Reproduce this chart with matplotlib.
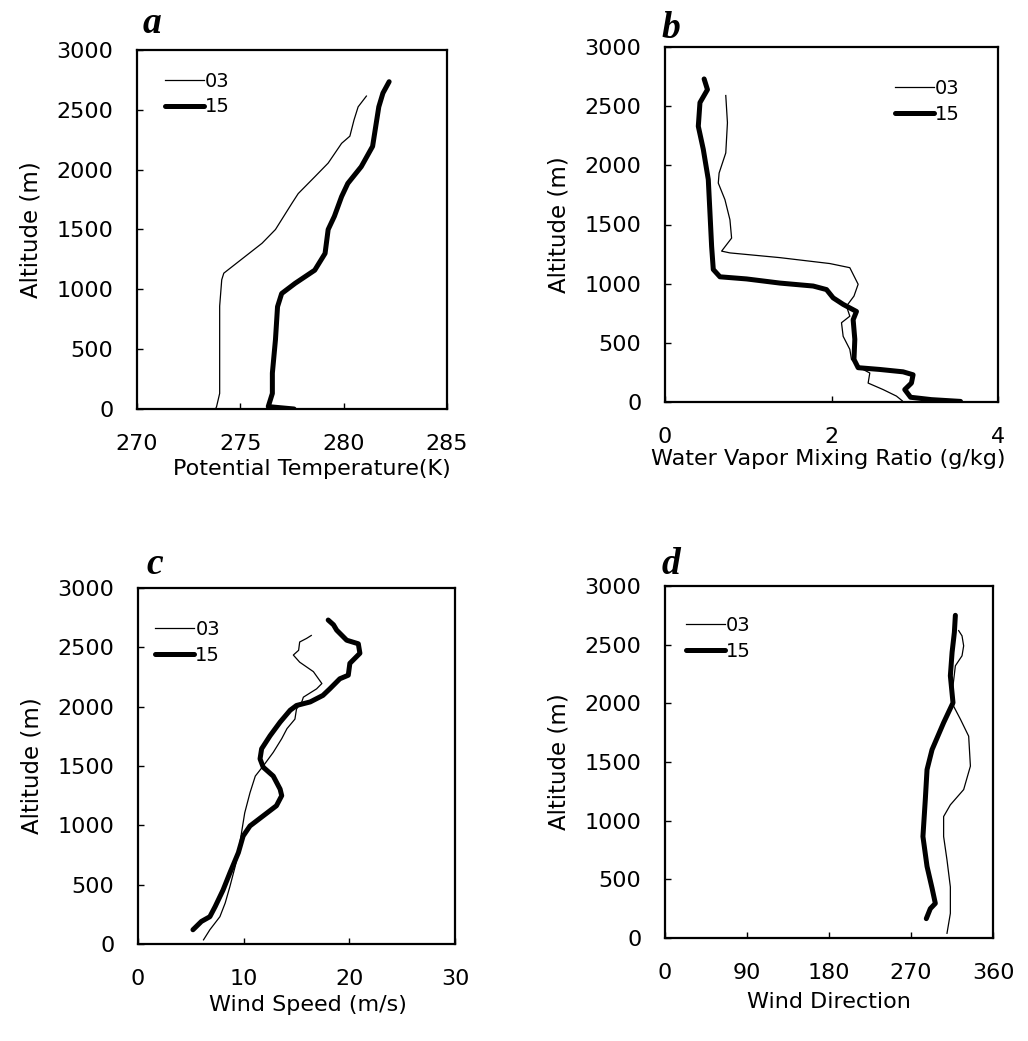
import matplotlib
matplotlib.use("Agg")
import matplotlib.pyplot as plt

# ---- data (x value, altitude in m) ----
# a: potential temperature (K)
a_alt_03 = [0, 20, 130, 440, 860, 1080, 1135, 1385, 1500, 1720, 1800, 1940, 2055, 2220, 2280, 2415, 2525, 2615]
a_th_03 = [273.8, 273.85, 274.0, 274.0, 274.0, 274.1, 274.2, 276.05, 276.7, 277.5, 277.8, 278.6, 279.25, 279.9,
           280.3, 280.5, 280.7, 281.1]
a_alt_15 = [0, 20, 130, 300, 580, 855, 965, 1050, 1160, 1300, 1500, 1610, 1775, 1885, 2025, 2195, 2360, 2525, 2640, 2735]
a_th_15 = [277.6, 276.35, 276.55, 276.55, 276.7, 276.8, 277.0, 277.65, 278.6, 279.1, 279.25, 279.55, 279.9, 280.2,
           280.85, 281.4, 281.55, 281.7, 281.9, 282.2]

# b: water vapor mixing ratio (g/kg)
b_alt_03 = [10, 50, 105, 160, 245, 275, 360, 445, 555, 670, 725, 810, 895, 995, 1135, 1170, 1220, 1260, 1275,
            1385, 1540, 1710, 1850, 1935, 2105, 2360, 2590]
b_q_03 = [2.85, 2.78, 2.62, 2.44, 2.46, 2.38, 2.24, 2.22, 2.14, 2.12, 2.22, 2.18, 2.27, 2.32, 2.22, 1.98, 1.38,
          0.78, 0.68, 0.80, 0.78, 0.72, 0.64, 0.65, 0.73, 0.75, 0.73]
b_alt_15 = [5, 20, 40, 105, 160, 230, 255, 275, 290, 360, 530, 695, 765, 825, 880, 950, 980, 1005, 1040, 1058,
            1120, 1315, 1600, 1880, 2135, 2330, 2530, 2640, 2730]
b_q_15 = [3.55, 3.2, 2.95, 2.88, 2.96, 2.98, 2.86, 2.58, 2.32, 2.27, 2.28, 2.26, 2.30, 2.14, 2.02, 1.94, 1.78,
          1.38, 0.98, 0.66, 0.58, 0.56, 0.54, 0.52, 0.46, 0.40, 0.42, 0.51, 0.47]

# c: wind speed (m/s)
c_alt_03 = [35, 120, 230, 345, 485, 655, 770, 940, 1105, 1275, 1415, 1500, 1615, 1730, 1815, 1895, 1980, 2040,
            2080, 2150, 2195, 2295, 2375, 2435, 2475, 2545, 2575, 2600]
c_ws_03 = [6.2, 6.8, 7.75, 8.25, 8.7, 9.2, 9.5, 9.8, 10.1, 10.6, 11.1, 11.85, 12.8, 13.6, 14.1, 14.85, 15.0, 15.5,
           15.65, 16.9, 17.4, 16.6, 15.3, 14.7, 15.2, 15.3, 15.95, 16.4]
c_alt_15 = [120, 190, 230, 315, 455, 600, 770, 910, 995, 1080, 1165, 1250, 1305, 1415, 1490, 1560, 1645, 1755,
            1870, 1970, 2010, 2040, 2095, 2150, 2235, 2265, 2365, 2450, 2530, 2560, 2645, 2690, 2730]
c_ws_15 = [5.2, 6.0, 6.8, 7.3, 8.05, 8.7, 9.5, 9.95, 10.6, 11.85, 13.1, 13.6, 13.45, 12.8, 11.85, 11.55, 11.7,
           12.5, 13.45, 14.4, 15.0, 16.3, 17.5, 18.15, 19.1, 19.9, 20.05, 21.0, 20.85, 19.75, 18.8, 18.5, 18.0]

# d: wind direction (deg)
d_alt_03 = [40, 210, 435, 665, 865, 1035, 1135, 1265, 1465, 1720, 1865, 1975, 2150, 2320, 2405, 2490, 2575, 2620]
d_wd_03 = [309.5, 313.2, 313.2, 309.5, 305.8, 305.8, 313.2, 327.8, 335.2, 333.3, 324.2, 316.8, 316.1, 318.7,
           326.0, 327.8, 326.0, 322.3]
d_alt_15 = [165, 250, 295, 425, 610, 865, 1180, 1435, 1605, 1835, 2005, 2235, 2435, 2605, 2750]
d_wd_15 = [286.8, 291.2, 296.7, 293.1, 287.6, 283.1, 285.7, 287.6, 293.1, 305.8, 316.1, 313.2, 315.1, 317.6, 318.7]

series_labels = ["03", "15"]
panel_letters = ["a", "b", "c", "d"]
x_labels = ["Potential Temperature(K)", "Water Vapor Mixing Ratio (g/kg)", "Wind Speed (m/s)", "Wind Direction"]
x_limits = [(270, 285), (0, 4), (0, 30), (0, 360)]
x_ticks = [[270, 275, 280, 285], [0, 2, 4], [0, 10, 20, 30], [0, 90, 180, 270, 360]]
y_ticks = [0, 500, 1000, 1500, 2000, 2500, 3000]

profiles = [
    (a_th_03, a_alt_03, a_th_15, a_alt_15),
    (b_q_03, b_alt_03, b_q_15, b_alt_15),
    (c_ws_03, c_alt_03, c_ws_15, c_alt_15),
    (d_wd_03, d_alt_03, d_wd_15, d_alt_15),
]

# ---- layout (pixel boxes of the original figure) ----
W, H = 1028, 1041
boxes = [(137, 50, 447, 409), (665, 47, 998, 402), (138, 588, 455, 944), (665, 586, 993, 938)]
legend_anchor = [(0.09, 0.94), (0.69, 0.91), (0.055, 0.91), (0.065, 0.915)]
xlabel_pos = [(0.565, -0.14), (0.49, -0.133), (0.535, -0.142), (0.5, -0.153)]
letter_pos = [(143, 33), (661, 38), (146, 574), (662, 574)]

plt.rcParams["font.family"] = "DejaVu Sans"
fig = plt.figure(figsize=(W / 100, H / 100), dpi=100)

for i, (x03, y03, x15, y15) in enumerate(profiles):
    l, t, r, b = boxes[i]
    ax = fig.add_axes([l / W, 1 - b / H, (r - l) / W, (b - t) / H])

    ax.plot(x03, y03, color="black", lw=0.9, label=series_labels[0])
    ax.plot(x15, y15, color="black", lw=3.6, solid_capstyle="round", label=series_labels[1])

    ax.set_xlim(*x_limits[i])
    ax.set_ylim(0, 3000)
    ax.set_xticks(x_ticks[i])
    ax.set_yticks(y_ticks)
    ax.tick_params(direction="in", length=4, width=1, labelsize=16)
    ax.tick_params(axis="x", pad=18)
    ax.tick_params(axis="y", pad=17)
    for sp in ax.spines.values():
        sp.set_linewidth(1.6)

    ax.set_xlabel(x_labels[i], fontsize=16)
    ax.xaxis.set_label_coords(*xlabel_pos[i])
    ax.set_ylabel("Altitude (m)", fontsize=16.5, labelpad=10)

    ax.legend(loc="upper left", bbox_to_anchor=legend_anchor[i], frameon=False, fontsize=14,
              handlelength=2.0, handletextpad=0.05, labelspacing=0.35, borderpad=0, borderaxespad=0)

    lx, ly = letter_pos[i]
    fig.text(lx / W, 1 - ly / H, panel_letters[i], fontsize=27, family="Liberation Serif",
             fontweight="bold", style="italic", va="baseline", ha="left")

fig.savefig("out.png", dpi=100)
